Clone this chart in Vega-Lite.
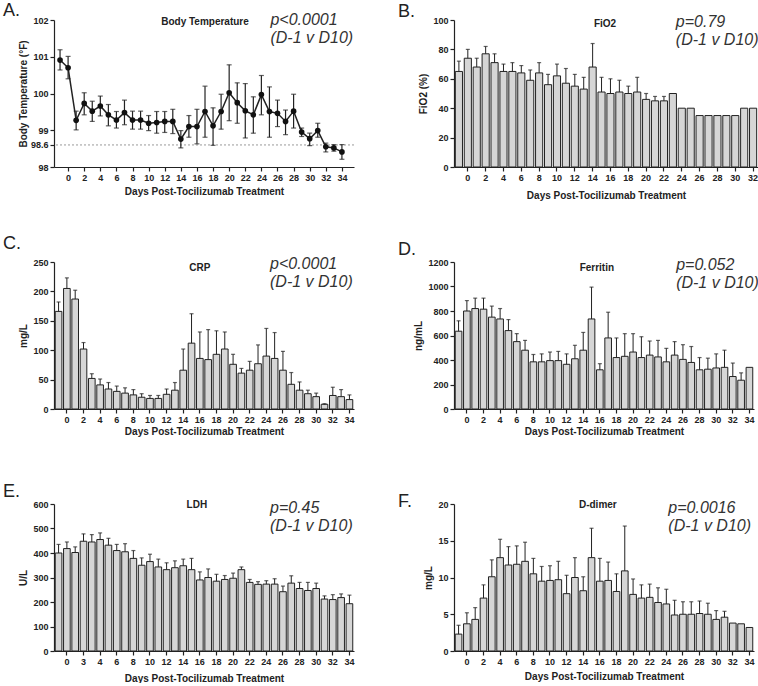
{
"$schema":"https://vega.github.io/schema/vega-lite/v6.json",
"background":"white",
"padding":{"left":2,"top":1,"right":0,"bottom":0},
"bounds":"flush",
"columns":2,
"spacing":{"row":95,"column":100},
"datasets":{
"temp":[
{"day":-1,"temp":100.91,"lo":100.64,"hi":101.19},
{"day":0,"temp":100.70,"lo":100.40,"hi":101.01},
{"day":1,"temp":99.27,"lo":99.01,"hi":99.52},
{"day":2,"temp":99.73,"lo":99.42,"hi":100.02},
{"day":3,"temp":99.52,"lo":99.24,"hi":99.79},
{"day":4,"temp":99.66,"lo":99.39,"hi":99.93},
{"day":5,"temp":99.42,"lo":99.12,"hi":99.70},
{"day":6,"temp":99.28,"lo":99.06,"hi":99.51},
{"day":7,"temp":99.48,"lo":99.15,"hi":99.82},
{"day":8,"temp":99.28,"lo":99.03,"hi":99.52},
{"day":9,"temp":99.28,"lo":99.03,"hi":99.52},
{"day":10,"temp":99.19,"lo":98.99,"hi":99.40},
{"day":11,"temp":99.21,"lo":98.92,"hi":99.51},
{"day":12,"temp":99.24,"lo":98.94,"hi":99.51},
{"day":13,"temp":99.24,"lo":98.91,"hi":99.57},
{"day":14,"temp":98.76,"lo":98.52,"hi":98.99},
{"day":15,"temp":99.10,"lo":98.81,"hi":99.40},
{"day":16,"temp":99.10,"lo":98.63,"hi":99.57},
{"day":17,"temp":99.51,"lo":98.81,"hi":100.20},
{"day":18,"temp":99.12,"lo":98.59,"hi":99.61},
{"day":19,"temp":99.51,"lo":99.03,"hi":99.98},
{"day":20,"temp":100.02,"lo":99.26,"hi":100.78},
{"day":21,"temp":99.75,"lo":99.19,"hi":100.29},
{"day":22,"temp":99.53,"lo":98.79,"hi":100.27},
{"day":23,"temp":99.42,"lo":98.92,"hi":99.91},
{"day":24,"temp":99.97,"lo":99.42,"hi":100.49},
{"day":25,"temp":99.51,"lo":98.81,"hi":100.18},
{"day":26,"temp":99.46,"lo":99.10,"hi":99.82},
{"day":27,"temp":99.24,"lo":98.88,"hi":99.55},
{"day":28,"temp":99.52,"lo":99.06,"hi":99.98},
{"day":29,"temp":98.95,"lo":98.83,"hi":99.06},
{"day":30,"temp":98.77,"lo":98.58,"hi":98.92},
{"day":31,"temp":98.99,"lo":98.81,"hi":99.19},
{"day":32,"temp":98.55,"lo":98.41,"hi":98.65},
{"day":33,"temp":98.52,"lo":98.43,"hi":98.61},
{"day":34,"temp":98.41,"lo":98.21,"hi":98.61}
],
"fio2":[
{"day":-1,"value":65,"upper":72},{"day":0,"value":74,"upper":80},{"day":1,"value":68,"upper":74},{"day":2,"value":77,"upper":82},
{"day":3,"value":71,"upper":77},{"day":4,"value":65,"upper":70},{"day":5,"value":65,"upper":71},{"day":6,"value":64,"upper":69},
{"day":7,"value":59,"upper":66},{"day":8,"value":64,"upper":71},{"day":9,"value":56,"upper":63},{"day":10,"value":62,"upper":70},
{"day":11,"value":57,"upper":67},{"day":12,"value":55,"upper":63},{"day":13,"value":53,"upper":61},{"day":14,"value":68,"upper":84},
{"day":15,"value":51,"upper":61},{"day":16,"value":50,"upper":60},{"day":17,"value":51,"upper":59},{"day":18,"value":50,"upper":55},
{"day":19,"value":51,"upper":61},{"day":20,"value":46,"upper":50},{"day":21,"value":45,"upper":48},{"day":22,"value":45,"upper":48},
{"day":23,"value":50,"upper":null},{"day":24,"value":40,"upper":null},{"day":25,"value":40,"upper":null},{"day":26,"value":35,"upper":null},
{"day":27,"value":35,"upper":null},{"day":28,"value":35,"upper":null},{"day":29,"value":35,"upper":null},{"day":30,"value":35,"upper":null},
{"day":31,"value":40,"upper":null},{"day":32,"value":40,"upper":null}
],
"crp":[
{"day":-1,"value":166,"upper":182},{"day":0,"value":205,"upper":223},{"day":1,"value":187,"upper":202},{"day":2,"value":102,"upper":113},
{"day":3,"value":52,"upper":60},{"day":4,"value":41,"upper":51},{"day":5,"value":34,"upper":45},{"day":6,"value":30,"upper":39},
{"day":7,"value":27,"upper":36},{"day":8,"value":24,"upper":33},{"day":9,"value":20,"upper":26},{"day":10,"value":18,"upper":23},
{"day":11,"value":18,"upper":23},{"day":12,"value":25,"upper":34},{"day":13,"value":32,"upper":45},{"day":14,"value":66,"upper":102},
{"day":15,"value":112,"upper":162},{"day":16,"value":86,"upper":131},{"day":17,"value":84,"upper":135},{"day":18,"value":93,"upper":133},
{"day":19,"value":102,"upper":131},{"day":20,"value":76,"upper":93},{"day":21,"value":61,"upper":69},{"day":22,"value":66,"upper":81},
{"day":23,"value":77,"upper":109},{"day":24,"value":90,"upper":137},{"day":25,"value":86,"upper":130},{"day":26,"value":66,"upper":98},
{"day":27,"value":42,"upper":62},{"day":28,"value":32,"upper":46},{"day":29,"value":26,"upper":32},{"day":30,"value":21,"upper":27},
{"day":31,"value":8,"upper":9},{"day":32,"value":23,"upper":37},{"day":33,"value":21,"upper":33},{"day":34,"value":16,"upper":24}
],
"ferritin":[
{"day":-1,"value":635,"upper":720},{"day":0,"value":800,"upper":885},{"day":1,"value":820,"upper":905},{"day":2,"value":815,"upper":905},
{"day":3,"value":750,"upper":840},{"day":4,"value":735,"upper":820},{"day":5,"value":640,"upper":730},{"day":6,"value":550,"upper":615},
{"day":7,"value":480,"upper":560},{"day":8,"value":385,"upper":445},{"day":9,"value":385,"upper":450},{"day":10,"value":395,"upper":465},
{"day":11,"value":395,"upper":470},{"day":12,"value":365,"upper":450},{"day":13,"value":410,"upper":520},{"day":14,"value":480,"upper":625},
{"day":15,"value":735,"upper":995},{"day":16,"value":320,"upper":370},{"day":17,"value":580,"upper":790},{"day":18,"value":420,"upper":580},
{"day":19,"value":430,"upper":615},{"day":20,"value":465,"upper":615},{"day":21,"value":420,"upper":590},{"day":22,"value":440,"upper":555},
{"day":23,"value":425,"upper":560},{"day":24,"value":385,"upper":495},{"day":25,"value":440,"upper":550},{"day":26,"value":405,"upper":525},
{"day":27,"value":380,"upper":510},{"day":28,"value":320,"upper":420},{"day":29,"value":325,"upper":415},{"day":30,"value":335,"upper":450},
{"day":31,"value":340,"upper":480},{"day":32,"value":265,"upper":375},{"day":33,"value":235,"upper":295},{"day":34,"value":340,"upper":null}
],
"ldh":[
{"day":-1,"value":400,"upper":435},{"day":0,"value":418,"upper":445},{"day":1,"value":402,"upper":425},{"day":2,"value":448,"upper":478},
{"day":3,"value":445,"upper":475},{"day":4,"value":455,"upper":482},{"day":5,"value":432,"upper":460},{"day":6,"value":410,"upper":435},
{"day":7,"value":405,"upper":438},{"day":8,"value":378,"upper":410},{"day":9,"value":350,"upper":380},{"day":10,"value":365,"upper":395},
{"day":11,"value":343,"upper":375},{"day":12,"value":332,"upper":360},{"day":13,"value":340,"upper":368},{"day":14,"value":348,"upper":375},
{"day":15,"value":332,"upper":378},{"day":16,"value":290,"upper":323},{"day":17,"value":300,"upper":335},{"day":18,"value":285,"upper":313},
{"day":19,"value":292,"upper":308},{"day":20,"value":297,"upper":318},{"day":21,"value":332,"upper":343},{"day":22,"value":280,"upper":292},
{"day":23,"value":272,"upper":283},{"day":24,"value":273,"upper":287},{"day":25,"value":273,"upper":295},{"day":26,"value":242,"upper":265},
{"day":27,"value":277,"upper":307},{"day":28,"value":255,"upper":280},{"day":29,"value":247,"upper":280},{"day":30,"value":255,"upper":277},
{"day":31,"value":212,"upper":225},{"day":32,"value":210,"upper":230},{"day":33,"value":218,"upper":233},{"day":34,"value":193,"upper":228}
],
"ddimer":[
{"day":-1,"value":2.3,"upper":3.5},{"day":0,"value":3.7,"upper":5.2},{"day":1,"value":4.3,"upper":5.9},{"day":2,"value":7.2,"upper":9.0},
{"day":3,"value":10.1,"upper":12.4},{"day":4,"value":12.7,"upper":15.2},{"day":5,"value":11.7,"upper":14.2},{"day":6,"value":11.8,"upper":14.3},
{"day":7,"value":12.2,"upper":14.8},{"day":8,"value":10.5,"upper":12.6},{"day":9,"value":9.5,"upper":11.5},{"day":10,"value":9.6,"upper":11.6},
{"day":11,"value":9.7,"upper":12.2},{"day":12,"value":7.8,"upper":10.3},{"day":13,"value":10.0,"upper":12.7},{"day":14,"value":8.2,"upper":10.1},
{"day":15,"value":12.7,"upper":16.7},{"day":16,"value":9.5,"upper":12.6},{"day":17,"value":9.6,"upper":12.1},{"day":18,"value":8.1,"upper":10.5},
{"day":19,"value":10.9,"upper":17.0},{"day":20,"value":7.7,"upper":9.8},{"day":21,"value":7.2,"upper":9.0},{"day":22,"value":7.3,"upper":9.1},
{"day":23,"value":6.6,"upper":8.6},{"day":24,"value":6.4,"upper":8.4},{"day":25,"value":4.9,"upper":6.9},{"day":26,"value":5.0,"upper":6.7},
{"day":27,"value":5.0,"upper":6.7},{"day":28,"value":5.1,"upper":6.8},{"day":29,"value":5.0,"upper":6.5},{"day":30,"value":4.3,"upper":5.5},
{"day":31,"value":4.6,"upper":5.4},{"day":32,"value":3.8,"upper":null},{"day":33,"value":3.7,"upper":null},{"day":34,"value":3.2,"upper":null}
]
},
"concat":[
{
"width":300,"height":147,
"layer":[
{"data":{"values":[{}]},"mark":{"type":"rule","color":"#999","strokeDash":[2,2],"strokeWidth":1},"encoding":{"y":{"datum":98.6,"type":"quantitative"}}},
{"data":{"name":"temp"},"mark":{"type":"errorbar","ticks":{"size":5,"color":"#222"},"color":"#222","thickness":1.2},
 "encoding":{"x":{"field":"day","type":"quantitative","title":"Days Post-Tocilizumab Treatment","scale":{"domain":[-1.75,35.5],"nice":false,"zero":false},"axis":{"values":[0,2,4,6,8,10,12,14,16,18,20,22,24,26,28,30,32,34],"tickCount":100,"format":"d","labelOverlap":false,"labelFlush":false,"titlePadding":4}},
 "y":{"field":"lo","type":"quantitative","title":"Body Temperature (°F)","scale":{"domain":[98,102],"nice":false,"zero":false},"axis":{"values":[98,98.6,99,100,101,102],"tickCount":100,"format":"~g","labelOverlap":false,"labelFlush":false,"titlePadding":2}},"y2":{"field":"hi"}}},
{"data":{"name":"temp"},"mark":{"type":"line","color":"#222","strokeWidth":1.5},"encoding":{"x":{"field":"day","type":"quantitative","title":"Days Post-Tocilizumab Treatment"},"y":{"field":"temp","type":"quantitative","title":"Body Temperature (°F)"}}},
{"data":{"name":"temp"},"mark":{"type":"point","filled":true,"color":"#111","size":32,"opacity":1},"encoding":{"x":{"field":"day","type":"quantitative","title":"Days Post-Tocilizumab Treatment"},"y":{"field":"temp","type":"quantitative","title":"Body Temperature (°F)"}}},
{"data":{"values":[{}]},"mark":{"type":"text","text":"A.","font":"Liberation Sans","fontSize":18,"color":"#222","align":"left","baseline":"alphabetic","dx":-51,"dy":-4.5},"encoding":{"x":{"datum":-1.75},"y":{"datum":102}}},
{"data":{"values":[{}]},"mark":{"type":"text","text":"Body Temperature","font":"Liberation Sans","fontSize":10,"fontWeight":"bold","color":"#222","align":"center","baseline":"middle","dy":2},"encoding":{"x":{"datum":17},"y":{"datum":102}}},
{"data":{"values":[{}]},"mark":{"type":"text","text":["p<0.0001","(D-1 v D10)"],"font":"Liberation Sans","fontStyle":"italic","fontSize":16,"lineHeight":18,"color":"#333","align":"left","baseline":"alphabetic","dy":5,"dx":1},"encoding":{"x":{"datum":25},"y":{"datum":102}}}
]
},
{
"width":304,"height":147,
"data":{"name":"fio2"},
"encoding":{"x":{"field":"day","type":"ordinal","title":"Days Post-Tocilizumab Treatment","scale":{"paddingInner":0.2,"paddingOuter":0.15},"axis":{"values":[0,2,4,6,8,10,12,14,16,18,20,22,24,26,28,30,32],"labelAngle":0,"labelOverlap":false,"titlePadding":8}}},
"layer":[
{"mark":{"type":"bar","fill":"#d6d6d6","stroke":"#222","strokeWidth":1},"encoding":{"y":{"field":"value","type":"quantitative","title":"FiO2 (%)","scale":{"domain":[0,100],"nice":false},"axis":{"values":[0,20,40,60,80,100],"tickCount":100,"format":"d","labelOverlap":false,"labelFlush":false,"titlePadding":4}}}},
{"transform":[{"filter":"datum.upper != null"}],"mark":{"type":"rule","color":"#222","strokeWidth":1},"encoding":{"y":{"field":"value","type":"quantitative","title":"FiO2 (%)"},"y2":{"field":"upper"}}},
{"transform":[{"filter":"datum.upper != null"}],"mark":{"type":"tick","color":"#222","size":4,"thickness":1.2},"encoding":{"y":{"field":"upper","type":"quantitative","title":"FiO2 (%)"}}},
{"data":{"values":[{}]},"mark":{"type":"text","text":"B.","font":"Liberation Sans","fontSize":18,"color":"#222","align":"left","baseline":"alphabetic","dx":-61,"dy":-3.5},"encoding":{"x":{"datum":-1},"y":{"datum":100}}},
{"data":{"values":[{}]},"mark":{"type":"text","text":"FiO2","font":"Liberation Sans","fontSize":10,"fontWeight":"bold","color":"#222","align":"center","baseline":"middle","dy":4,"dx":3.5},"encoding":{"x":{"datum":15},"y":{"datum":100}}},
{"data":{"values":[{}]},"mark":{"type":"text","text":["p=0.79","(D-1 v D10)"],"font":"Liberation Sans","fontStyle":"italic","fontSize":16,"lineHeight":18,"color":"#333","align":"left","baseline":"alphabetic","dy":7,"dx":3},"encoding":{"x":{"datum":23},"y":{"datum":100}}}
]
},
{
"width":300,"height":147,
"data":{"name":"crp"},
"encoding":{"x":{"field":"day","type":"ordinal","title":"Days Post-Tocilizumab Treatment","scale":{"paddingInner":0.2,"paddingOuter":0.15},"axis":{"values":[0,2,4,6,8,10,12,14,16,18,20,22,24,26,28,30,32,34],"labelAngle":0,"labelOverlap":false,"titlePadding":2}}},
"layer":[
{"mark":{"type":"bar","fill":"#d6d6d6","stroke":"#222","strokeWidth":1},"encoding":{"y":{"field":"value","type":"quantitative","title":"mg/L","scale":{"domain":[0,250],"nice":false},"axis":{"values":[0,50,100,150,200,250],"tickCount":100,"format":"d","labelOverlap":false,"labelFlush":false,"titlePadding":4}}}},
{"transform":[{"filter":"datum.upper != null"}],"mark":{"type":"rule","color":"#222","strokeWidth":1},"encoding":{"y":{"field":"value","type":"quantitative","title":"mg/L"},"y2":{"field":"upper"}}},
{"transform":[{"filter":"datum.upper != null"}],"mark":{"type":"tick","color":"#222","size":4,"thickness":1.2},"encoding":{"y":{"field":"upper","type":"quantitative","title":"mg/L"}}},
{"data":{"values":[{}]},"mark":{"type":"text","text":"C.","font":"Liberation Sans","fontSize":18,"color":"#222","align":"left","baseline":"alphabetic","dx":-55.6,"dy":-13},"encoding":{"x":{"datum":-1},"y":{"datum":250}}},
{"data":{"values":[{}]},"mark":{"type":"text","text":"CRP","font":"Liberation Sans","fontSize":10,"fontWeight":"bold","color":"#222","align":"center","baseline":"middle","dy":6,"dx":0},"encoding":{"x":{"datum":16},"y":{"datum":250}}},
{"data":{"values":[{}]},"mark":{"type":"text","text":["p<0.0001","(D-1 v D10)"],"font":"Liberation Sans","fontStyle":"italic","fontSize":16,"lineHeight":18,"color":"#333","align":"left","baseline":"alphabetic","dy":7,"dx":3.7},"encoding":{"x":{"datum":24},"y":{"datum":250}}}
]
},
{
"width":300,"height":147,
"data":{"name":"ferritin"},
"encoding":{"x":{"field":"day","type":"ordinal","title":"Days Post-Tocilizumab Treatment","scale":{"paddingInner":0.2,"paddingOuter":0.15},"axis":{"values":[0,2,4,6,8,10,12,14,16,18,20,22,24,26,28,30,32,34],"labelAngle":0,"labelOverlap":false,"titlePadding":2}}},
"layer":[
{"mark":{"type":"bar","fill":"#d6d6d6","stroke":"#222","strokeWidth":1},"encoding":{"y":{"field":"value","type":"quantitative","title":"ng/mL","scale":{"domain":[0,1200],"nice":false},"axis":{"values":[0,200,400,600,800,1000,1200],"tickCount":100,"format":"d","labelOverlap":false,"labelFlush":false,"titlePadding":4}}}},
{"transform":[{"filter":"datum.upper != null"}],"mark":{"type":"rule","color":"#222","strokeWidth":1},"encoding":{"y":{"field":"value","type":"quantitative","title":"ng/mL"},"y2":{"field":"upper"}}},
{"transform":[{"filter":"datum.upper != null"}],"mark":{"type":"tick","color":"#222","size":4,"thickness":1.2},"encoding":{"y":{"field":"upper","type":"quantitative","title":"ng/mL"}}},
{"data":{"values":[{}]},"mark":{"type":"text","text":"D.","font":"Liberation Sans","fontSize":18,"color":"#222","align":"left","baseline":"alphabetic","dx":-60.6,"dy":-7},"encoding":{"x":{"datum":-1},"y":{"datum":1200}}},
{"data":{"values":[{}]},"mark":{"type":"text","text":"Ferritin","font":"Liberation Sans","fontSize":10,"fontWeight":"bold","color":"#222","align":"center","baseline":"middle","dy":6,"dx":-3},"encoding":{"x":{"datum":16},"y":{"datum":1200}}},
{"data":{"values":[{}]},"mark":{"type":"text","text":["p=0.052","(D-1 v D10)"],"font":"Liberation Sans","fontStyle":"italic","fontSize":16,"lineHeight":18,"color":"#333","align":"left","baseline":"alphabetic","dy":8,"dx":1.5},"encoding":{"x":{"datum":25},"y":{"datum":1200}}}
]
},
{
"width":300,"height":147,
"data":{"name":"ldh"},
"encoding":{"x":{"field":"day","type":"ordinal","title":"Days Post-Tocilizumab Treatment","scale":{"paddingInner":0.2,"paddingOuter":0.15},"axis":{"values":[0,2,4,6,8,10,12,14,16,18,20,22,24,26,28,30,32,34],"labelExpr":"datum.value == 2 ? '3' : datum.label","labelAngle":0,"labelOverlap":false,"titlePadding":7}}},
"layer":[
{"mark":{"type":"bar","fill":"#d6d6d6","stroke":"#222","strokeWidth":1},"encoding":{"y":{"field":"value","type":"quantitative","title":"U/L","scale":{"domain":[0,600],"nice":false},"axis":{"values":[0,100,200,300,400,500,600],"tickCount":100,"format":"d","labelOverlap":false,"labelFlush":false,"titlePadding":4}}}},
{"transform":[{"filter":"datum.upper != null"}],"mark":{"type":"rule","color":"#222","strokeWidth":1},"encoding":{"y":{"field":"value","type":"quantitative","title":"U/L"},"y2":{"field":"upper"}}},
{"transform":[{"filter":"datum.upper != null"}],"mark":{"type":"tick","color":"#222","size":4,"thickness":1.2},"encoding":{"y":{"field":"upper","type":"quantitative","title":"U/L"}}},
{"data":{"values":[{}]},"mark":{"type":"text","text":"E.","font":"Liberation Sans","fontSize":18,"color":"#222","align":"left","baseline":"alphabetic","dx":-55.6,"dy":-7},"encoding":{"x":{"datum":-1},"y":{"datum":600}}},
{"data":{"values":[{}]},"mark":{"type":"text","text":"LDH","font":"Liberation Sans","fontSize":10,"fontWeight":"bold","color":"#222","align":"center","baseline":"middle","dy":1,"dx":-3},"encoding":{"x":{"datum":16},"y":{"datum":600}}},
{"data":{"values":[{}]},"mark":{"type":"text","text":["p=0.45","(D-1 v D10)"],"font":"Liberation Sans","fontStyle":"italic","fontSize":16,"lineHeight":18,"color":"#333","align":"left","baseline":"alphabetic","dy":9,"dx":3.7},"encoding":{"x":{"datum":24},"y":{"datum":600}}}
]
},
{
"width":300,"height":147,
"data":{"name":"ddimer"},
"encoding":{"x":{"field":"day","type":"ordinal","title":"Days Post-Tocilizumab Treatment","scale":{"paddingInner":0.2,"paddingOuter":0.15},"axis":{"values":[0,2,4,6,8,10,12,14,16,18,20,22,24,26,28,30,32,34],"labelAngle":0,"labelOverlap":false,"titlePadding":5}}},
"layer":[
{"mark":{"type":"bar","fill":"#d6d6d6","stroke":"#222","strokeWidth":1},"encoding":{"y":{"field":"value","type":"quantitative","title":"mg/L","scale":{"domain":[0,20],"nice":false},"axis":{"values":[0,5,10,15,20],"tickCount":100,"format":"d","labelOverlap":false,"labelFlush":false,"titlePadding":4}}}},
{"transform":[{"filter":"datum.upper != null"}],"mark":{"type":"rule","color":"#222","strokeWidth":1},"encoding":{"y":{"field":"value","type":"quantitative","title":"mg/L"},"y2":{"field":"upper"}}},
{"transform":[{"filter":"datum.upper != null"}],"mark":{"type":"tick","color":"#222","size":4,"thickness":1.2},"encoding":{"y":{"field":"upper","type":"quantitative","title":"mg/L"}}},
{"data":{"values":[{}]},"mark":{"type":"text","text":"F.","font":"Liberation Sans","fontSize":18,"color":"#222","align":"left","baseline":"alphabetic","dx":-60.6,"dy":3},"encoding":{"x":{"datum":-1},"y":{"datum":20}}},
{"data":{"values":[{}]},"mark":{"type":"text","text":"D-dimer","font":"Liberation Sans","fontSize":10,"fontWeight":"bold","color":"#222","align":"center","baseline":"middle","dy":1,"dx":-2},"encoding":{"x":{"datum":16},"y":{"datum":20}}},
{"data":{"values":[{}]},"mark":{"type":"text","text":["p=0.0016","(D-1 v D10)"],"font":"Liberation Sans","fontStyle":"italic","fontSize":16,"lineHeight":18,"color":"#333","align":"left","baseline":"alphabetic","dy":9,"dx":2},"encoding":{"x":{"datum":24},"y":{"datum":20}}}
]
}
],
"config":{
"view":{"stroke":null},
"axis":{"grid":false,"labelOverlap":false,"labelFlush":false,"domainColor":"#222","domainWidth":1.2,"tickColor":"#222","tickWidth":1.2,"tickSize":4,"labelFont":"Liberation Sans","labelFontSize":9,"labelFontWeight":"bold","labelColor":"#222","labelPadding":2,"titleFont":"Liberation Sans","titleFontSize":10,"titleFontWeight":"bold","titleColor":"#222"}
}
}
